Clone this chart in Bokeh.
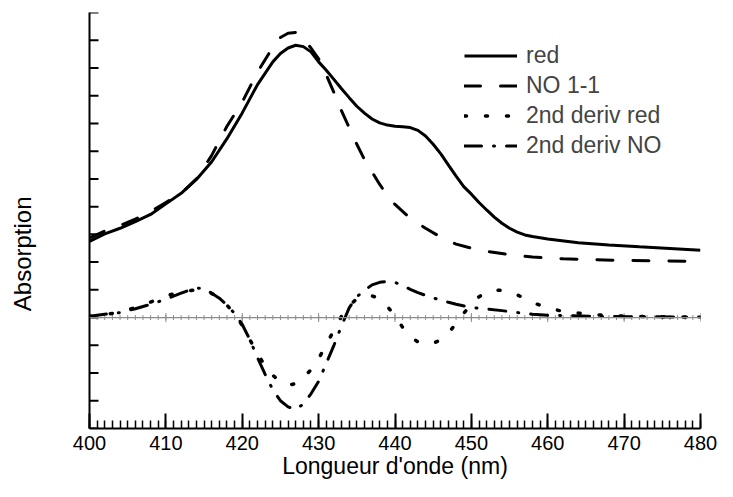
import numpy as np
from bokeh.plotting import figure
from bokeh.models import (Range1d, FixedTicker, SingleIntervalTicker, Legend, LegendItem, Span,
                          LinearAxis)
from bokeh.embed import file_html
from bokeh.resources import INLINE

# ---- data ----
wl_red = [400, 402, 404, 406, 408, 410, 412, 414, 416, 418, 420, 422, 424, 425, 426, 427, 428, 429,
          430, 431, 432, 433, 434, 435, 436, 437, 438, 439, 440, 441, 442, 443, 444, 445, 446, 447,
          448, 449, 450, 451, 452, 453, 454, 455, 456, 457, 458, 460, 464, 468, 472, 476, 480]
abs_red = [2.75, 3.02, 3.22, 3.46, 3.72, 4.10, 4.48, 4.98, 5.62, 6.45, 7.38, 8.40, 9.22, 9.52, 9.72, 9.82, 9.77, 9.58,
           9.22, 8.92, 8.59, 8.25, 7.93, 7.62, 7.37, 7.16, 7.02, 6.94, 6.90, 6.88, 6.85, 6.75, 6.55, 6.25, 5.90, 5.50,
           5.10, 4.72, 4.45, 4.15, 3.88, 3.62, 3.40, 3.22, 3.08, 2.98, 2.92, 2.83, 2.70, 2.62, 2.55, 2.49, 2.43]

wl_no = [400, 402, 404, 406, 408, 410, 412, 414, 416, 418, 420, 422, 424, 425, 426, 427, 428, 429,
         430, 431, 432, 433, 434, 435, 436, 437, 438, 439, 440, 442, 444, 446, 448, 450, 452, 455,
         458, 462, 466, 470, 475, 480]
abs_no = [2.87, 3.12, 3.32, 3.55, 3.82, 4.15, 4.48, 5.00, 5.85, 6.90, 7.77, 8.85, 9.75, 10.10, 10.25, 10.28, 10.05, 9.72,
          9.33, 8.75, 8.12, 7.45, 6.85, 6.25, 5.70, 5.25, 4.80, 4.40, 4.08, 3.58, 3.22, 2.90, 2.65, 2.50, 2.39, 2.27,
          2.18, 2.12, 2.09, 2.06, 2.04, 2.02]

wl_d2red = [400, 402, 404, 406, 408, 410, 412, 414, 416, 417, 418, 419, 420, 421, 422, 423, 424, 425, 426, 427,
            428, 429, 430, 431, 432, 433, 434, 435, 436, 437, 438, 439, 440, 441, 442, 443, 444, 445, 446, 447,
            448, 449, 450, 451, 452, 453, 454, 455, 456, 457, 458, 459, 460, 462, 464, 467, 470, 475, 480]
d2_red = [0.04, 0.10, 0.20, 0.36, 0.56, 0.78, 0.93, 1.00, 0.87, 0.70, 0.45, 0.12, -0.28, -0.80, -1.30, -1.75, -2.08, -2.32, -2.44, -2.38,
          -2.18, -1.88, -1.48, -0.98, -0.45, 0.05, 0.42, 0.68, 0.78, 0.78, 0.68, 0.40, 0.05, -0.35, -0.68, -0.88, -0.95, -0.93, -0.80, -0.55,
          -0.22, 0.15, 0.48, 0.75, 0.92, 0.99, 0.98, 0.92, 0.82, 0.68, 0.55, 0.44, 0.35, 0.22, 0.16, 0.09, 0.05, 0.03, 0.02]

wl_d2no = [400, 402, 404, 406, 408, 410, 412, 413, 414, 415, 416, 417, 418, 419, 420, 421, 422, 423, 424, 425,
           426, 427, 428, 429, 430, 431, 432, 433, 434, 435, 436, 437, 438, 439, 440, 441, 442, 443, 444, 445,
           446, 447, 448, 450, 452, 454, 456, 458, 460, 463, 467, 472, 480]
d2_no = [0.05, 0.12, 0.18, 0.32, 0.48, 0.66, 0.88, 0.98, 1.06, 1.05, 0.88, 0.70, 0.45, 0.15, -0.25, -0.80, -1.45, -2.05, -2.60, -3.00,
         -3.22, -3.31, -3.12, -2.75, -2.30, -1.65, -1.00, -0.30, 0.35, 0.75, 0.98, 1.18, 1.27, 1.30, 1.27, 1.15, 1.02, 0.90, 0.80, 0.71,
         0.63, 0.55, 0.48, 0.36, 0.31, 0.25, 0.18, 0.12, 0.08, 0.07, 0.04, 0.03, 0.02]

x_range_nm = (400, 480)
y_ticks = list(range(-4, 12))
zero_minor = list(range(400, 481, 1))
zero_major = list(range(400, 481, 10))

labels = ["red", "NO 1-1", "2nd deriv red", "2nd deriv NO"]
x_title = "Longueur d'onde (nm)"
y_title = "Absorption"

FONT = "Liberation Sans"

p = figure(width=717, height=481, output_backend="svg", toolbar_location=None,
           x_range=Range1d(*x_range_nm), y_range=Range1d(y_ticks[0], y_ticks[-1]),
           min_border_left=89, min_border_right=17, min_border_top=12, min_border_bottom=30)
p.outline_line_color = None
p.grid.visible = False
p.background_fill_color = "white"

# y axis: only the line; inward ticks drawn as short rays
p.yaxis.ticker = FixedTicker(ticks=[])
p.yaxis.minor_tick_line_color = None
p.yaxis.axis_line_width = 2
p.yaxis.major_label_standoff = 0
p.ray(x=[x_range_nm[0]] * len(y_ticks), y=y_ticks, length=9, length_units="screen", angle=0,
      line_color="black", line_width=2)

# second (invisible) left axis carrying the title; trailing no-break spaces
# move the visible word lower, as in the reference
ylab_axis = LinearAxis(ticker=FixedTicker(ticks=[]), axis_line_color=None,
                       major_tick_line_color=None, minor_tick_line_color=None,
                       axis_label=y_title + "\u00a0" * 10, axis_label_standoff=54,
                       axis_label_text_font=FONT, axis_label_text_font_size="24px",
                       axis_label_text_font_style="normal", axis_label_text_color="black")
p.add_layout(ylab_axis, "left")

# x axis
p.xaxis.ticker = SingleIntervalTicker(interval=10, num_minor_ticks=10)
p.xaxis.major_tick_in = 15
p.xaxis.major_tick_out = 0
p.xaxis.minor_tick_in = 8
p.xaxis.minor_tick_out = 0
p.xaxis.major_tick_line_width = 2
p.xaxis.minor_tick_line_width = 1.5
p.xaxis.axis_line_width = 2
p.xaxis.major_label_text_font = FONT
p.xaxis.major_label_text_font_size = "20px"
p.xaxis.major_label_text_color = "black"
p.xaxis.major_label_standoff = 7
p.xaxis[0].axis_label = x_title
p.xaxis[0].axis_label_text_font = FONT
p.xaxis[0].axis_label_text_font_size = "23px"
p.xaxis[0].axis_label_text_font_style = "normal"
p.xaxis[0].axis_label_text_color = "black"
p.xaxis[0].axis_label_standoff = 0

# zero line with small gray ticks
GRAY = "#8c8c8c"
p.add_layout(Span(location=0, dimension="width", line_color=GRAY, line_width=1.2))
p.scatter(x=zero_minor, y=[0] * len(zero_minor), marker="dash", angle=np.pi / 2, size=5,
          line_color=GRAY, line_width=1)
p.scatter(x=zero_major, y=[0] * len(zero_major), marker="dash", angle=np.pi / 2, size=9,
          line_color=GRAY, line_width=1)

r1 = p.line(wl_red, abs_red, line_color="black", line_width=3)
r2 = p.line(wl_no, abs_no, line_color="black", line_width=3, line_dash="16 20", line_cap="round")
r3 = p.line(wl_d2red, d2_red, line_color="black", line_width=3.5, line_dash="2 19", line_cap="round")
r4 = p.line(wl_d2no, d2_no, line_color="black", line_width=3, line_dash="17 12 1 12", line_cap="round")

legend = Legend(items=[LegendItem(label=labels[0], renderers=[r1]),
                       LegendItem(label=labels[1], renderers=[r2]),
                       LegendItem(label=labels[2], renderers=[r3]),
                       LegendItem(label=labels[3], renderers=[r4])],
                location=(375, 268))
legend.border_line_color = None
legend.background_fill_alpha = 0
legend.label_text_font = FONT
legend.label_text_font_size = "23px"
legend.glyph_width = 53
legend.glyph_height = 29
legend.label_height = 29
legend.spacing = 1
legend.padding = 0
legend.margin = 0
legend.label_standoff = 9
p.add_layout(legend)

open("out.html", "w").write(file_html(p, INLINE))
